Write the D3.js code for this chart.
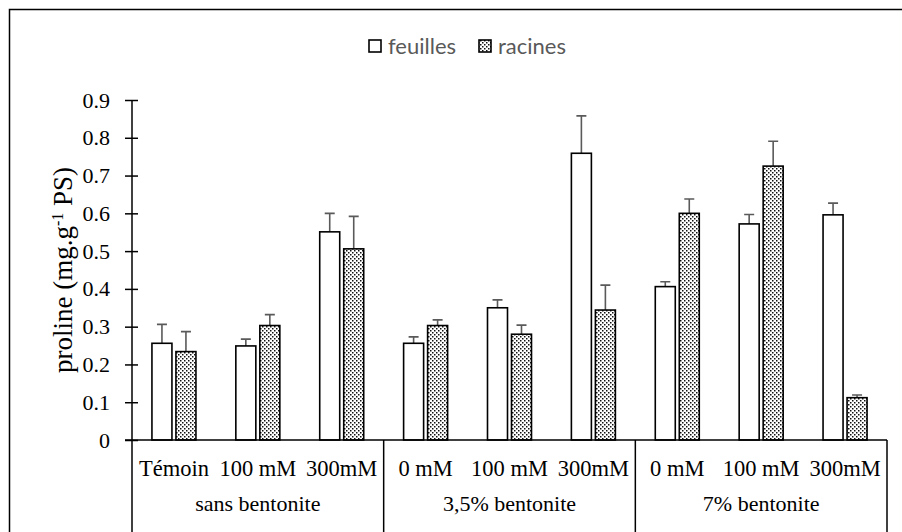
<!DOCTYPE html>
<html>
<head>
<meta charset="utf-8">
<script src="https://cdn.jsdelivr.net/npm/d3@7"></script>
<style>
  body { margin: 0; background: #fff; }
  svg { display: block; }
  .serif { font-family: "Liberation Serif", "Times New Roman", serif; }
  .sans { font-family: "Lato", "Open Sans", sans-serif; }
</style>
</head>
<body>
<svg id="grafico" width="902" height="532"></svg>
<script>
// Datos
var grupos = ["sans bentonite", "3,5% bentonite", "7% bentonite"];
var categorias = ["Témoin", "100 mM", "300mM", "0 mM", "100 mM", "300mM", "0 mM", "100 mM", "300mM"];
var series = ["feuilles", "racines"];
var feuilles = [0.256, 0.249, 0.551, 0.256, 0.350, 0.759, 0.406, 0.572, 0.596];
var feuillesErr = [0.050, 0.018, 0.049, 0.017, 0.021, 0.099, 0.013, 0.025, 0.031];
var racines = [0.234, 0.303, 0.506, 0.303, 0.280, 0.344, 0.600, 0.725, 0.112];
var racinesErr = [0.053, 0.029, 0.086, 0.015, 0.024, 0.066, 0.038, 0.066, 0.007];
var ticksY = [0, 0.1, 0.2, 0.3, 0.4, 0.5, 0.6, 0.7, 0.8, 0.9];

var svg = d3.select("#grafico");

// patron de puntos para las raices
var defs = svg.append("defs");
var pat = defs.append("pattern")
  .attr("id", "puntos")
  .attr("patternUnits", "userSpaceOnUse")
  .attr("width", 4).attr("height", 4);
pat.append("rect").attr("width", 4).attr("height", 4).attr("fill", "#fff");
pat.append("rect").attr("x", 0).attr("y", 0).attr("width", 1.5).attr("height", 1.5).attr("fill", "#111");
pat.append("rect").attr("x", 2).attr("y", 2).attr("width", 1.5).attr("height", 1.5).attr("fill", "#111");

// marco exterior
svg.append("rect")
  .attr("x", 9.5).attr("y", 9.5)
  .attr("width", 900).attr("height", 540)
  .attr("fill", "none").attr("stroke", "#000").attr("stroke-width", 1.5);

var x0 = 132, x1 = 887, yTop = 100, yBase = 440;

var x = d3.scaleBand().domain(d3.range(categorias.length)).range([x0, x1]);
var y = d3.scaleLinear().domain([0, 0.9]).range([yBase, yTop]);

var barW = 20, gap = 4;

// eje Y
var ejeY = svg.append("g")
  .attr("transform", "translate(" + x0 + ",0)")
  .call(d3.axisLeft(y).tickValues(ticksY).tickSize(7).tickPadding(15)
    .tickFormat(function (d) { return d === 0 ? "0" : d3.format(".1f")(d); }));
ejeY.attr("font-family", null).attr("font-size", null);
ejeY.select(".domain").remove();
ejeY.selectAll("line").attr("x2", -7).attr("x1", 6).attr("stroke", "#000").attr("stroke-width", 1.5);
ejeY.selectAll("text")
  .attr("class", "serif")
  .attr("font-size", 22).attr("fill", "#000");

svg.append("line")
  .attr("x1", x0).attr("x2", x0).attr("y1", yTop).attr("y2", 532)
  .attr("stroke", "#000").attr("stroke-width", 1.5);

// barras
var datos = categorias.map(function (c, i) {
  return [
    { s: "feuilles", v: feuilles[i], e: feuillesErr[i], i: i, k: 0 },
    { s: "racines", v: racines[i], e: racinesErr[i], i: i, k: 1 }
  ];
});
var planos = [].concat.apply([], datos);

function bx(d) {
  var c = x(d.i) + x.bandwidth() / 2;
  return d.k === 0 ? c - gap / 2 - barW : c + gap / 2;
}

svg.selectAll(".err")
  .data(planos)
  .enter().append("path")
  .attr("class", "err")
  .attr("d", function (d) {
    var cx = bx(d) + barW / 2;
    var yt = y(d.v + d.e);
    return "M" + cx + "," + y(d.v) + "V" + yt + "M" + (cx - 5) + "," + yt + "H" + (cx + 5);
  })
  .attr("stroke", "#5a5a5a").attr("stroke-width", 1.6).attr("fill", "none");

svg.selectAll(".barra")
  .data(planos)
  .enter().append("rect")
  .attr("class", "barra")
  .attr("x", bx)
  .attr("y", function (d) { return y(d.v); })
  .attr("width", barW)
  .attr("height", function (d) { return yBase - y(d.v); })
  .attr("fill", function (d) { return d.k === 0 ? "#fff" : "url(#puntos)"; })
  .attr("stroke", "#000").attr("stroke-width", 1.6);

// eje X
svg.append("line")
  .attr("x1", x0 - 7).attr("x2", x1).attr("y1", yBase).attr("y2", yBase)
  .attr("stroke", "#000").attr("stroke-width", 1.5);

var paso = (x1 - x0) / 3;
grupos.forEach(function (g, j) {
  var xd = x0 + paso * (j + 1);
  svg.append("line")
    .attr("x1", xd).attr("x2", xd).attr("y1", yBase).attr("y2", 532)
    .attr("stroke", "#000").attr("stroke-width", 1.5);
  svg.append("text")
    .attr("class", "serif")
    .attr("x", x0 + paso * j + paso / 2).attr("y", 511)
    .attr("text-anchor", "middle")
    .attr("font-size", 22)
    .text(g);
});

svg.selectAll(".cat")
  .data(categorias)
  .enter().append("text")
  .attr("class", "cat serif")
  .attr("x", function (d, i) { return x(i) + x.bandwidth() / 2; })
  .attr("y", 476)
  .attr("text-anchor", "middle")
  .attr("font-size", 22.5)
  .text(function (d) { return d; });

// titulo eje Y
var ty = svg.append("text")
  .attr("class", "serif")
  .attr("transform", "translate(72,270) rotate(-90)")
  .attr("text-anchor", "middle")
  .attr("font-size", 27);
ty.append("tspan").text("proline (mg.g");
ty.append("tspan").attr("dy", -9).attr("font-size", 16).text("-1");
ty.append("tspan").attr("dy", 9).text(" PS)");

// leyenda
var leyenda = svg.append("g");
var posLeyenda = [369, 479];
series.forEach(function (s, i) {
  leyenda.append("rect")
    .attr("x", posLeyenda[i]).attr("y", 40)
    .attr("width", 12).attr("height", 12)
    .attr("fill", i === 0 ? "#fff" : "url(#puntos)")
    .attr("stroke", "#000").attr("stroke-width", 1.6);
  leyenda.append("text")
    .attr("class", "sans")
    .attr("x", posLeyenda[i] + 19).attr("y", 54)
    .attr("font-size", 22)
    .attr("fill", "#595959")
    .text(s);
});
</script>
</body>
</html>
